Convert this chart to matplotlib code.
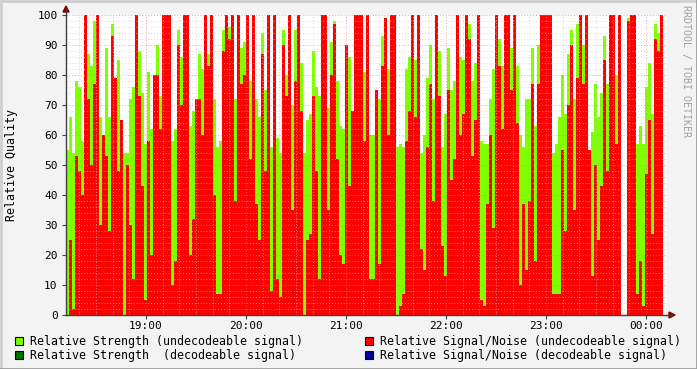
import numpy as np
import matplotlib
matplotlib.use("Agg")
import matplotlib.pyplot as plt
from matplotlib.patches import Rectangle, Polygon
from matplotlib.lines import Line2D

W, H = 697, 369

# Each column covers 1.8 minutes, starting 18:12.
# (strength, signal/noise), 8 rows of 25 columns
strength = [
    55, 66, 54, 78, 76, 58, 69, 87, 83, 98, 100, 66, 60, 89, 66, 97, 55, 85, 63, 54, 54, 72, 76, 76, 88,
    74, 57, 81, 62, 54, 90, 73, 54, 54, 54, 58, 62, 95, 86, 78, 54, 63, 68, 53, 87, 82, 86, 87, 92, 72,
    56, 58, 95, 86, 96, 78, 72, 62, 89, 91, 72, 78, 78, 72, 66, 94, 75, 58, 56, 59, 59, 54, 95, 80, 88,
    70, 95, 72, 84, 54, 65, 67, 88, 76, 73, 54, 54, 69, 91, 98, 78, 63, 62, 54, 86, 57, 54, 85, 69, 81,
    95, 60, 60, 56, 72, 93, 73, 82, 82, 97, 56, 57, 56, 82, 86, 100, 85, 97, 54, 60, 79, 90, 72, 86, 88,
    56, 67, 89, 75, 78, 58, 86, 85, 63, 97, 78, 84, 54, 58, 57, 57, 72, 82, 54, 92, 83, 68, 54, 89, 83,
    83, 60, 56, 72, 72, 89, 63, 90, 84, 82, 54, 96, 54, 57, 66, 80, 67, 87, 95, 72, 97, 91, 90, 80, 55,
    61, 77, 66, 74, 93, 77, 97, 54, 80, 81, np.nan, np.nan, 99, 100, 100, 57, 63, 57, 76, 84, 67, 97, 94, 77, np.nan,
]
snr = [
    0, 25, 2, 53, 48, 40, 100, 72, 50, 77, 100, 30, 60, 53, 28, 93, 79, 48, 65, 0, 50, 30, 12, 100, 73,
    43, 5, 58, 20, 80, 80, 62, 100, 100, 100, 10, 18, 90, 70, 100, 100, 20, 32, 72, 72, 60, 100, 83, 100, 40,
    7, 7, 88, 100, 92, 100, 38, 100, 77, 80, 100, 52, 100, 37, 25, 87, 48, 100, 8, 100, 12, 6, 90, 73, 100,
    35, 78, 100, 68, 0, 25, 27, 73, 48, 12, 100, 100, 35, 80, 97, 52, 20, 17, 90, 43, 68, 100, 100, 100, 58,
    100, 12, 12, 75, 17, 83, 99, 60, 100, 100, 0, 3, 7, 58, 68, 100, 66, 100, 22, 15, 56, 77, 38, 100, 73,
    23, 13, 75, 45, 52, 100, 60, 67, 100, 92, 53, 65, 100, 5, 3, 37, 60, 29, 100, 83, 62, 100, 100, 75, 100,
    64, 10, 37, 15, 38, 77, 18, 77, 100, 100, 100, 100, 7, 7, 7, 55, 28, 70, 90, 35, 79, 100, 77, 100, 55,
    13, 50, 25, 43, 85, 48, 100, 100, 57, 100, np.nan, np.nan, 98, 100, 100, 7, 18, 3, 47, 65, 27, 92, 88, 100, np.nan,
]

start_hour = 18.2
step = 0.03
hour_ticks = [19, 20, 21, 22, 23, 24]
hour_labels = ["19:00", "20:00", "21:00", "22:00", "23:00", "00:00"]
y_ticks = [0, 10, 20, 30, 40, 50, 60, 70, 80, 90, 100]

legend_items = [
    ("Relative Strength (undecodeable signal)", "#80ff00", 15, 341),
    ("Relative Signal/Noise (undecodeable signal)", "#ff0000", 365, 341),
    ("Relative Strength  (decodeable signal)", "#007000", 15, 355),
    ("Relative Signal/Noise (decodeable signal)", "#0000a0", 365, 355),
]

MONO = "DejaVu Sans Mono"
FS = 8.4


def fx(x):
    return x / W


def fy(y):
    return 1 - y / H


fig = plt.figure(figsize=(W / 100, H / 100), dpi=100)
fig.patch.set_facecolor("#f3f3f3")

# plot area in pixels: x 66..666, y 15..315
ax = fig.add_axes([fx(66), fy(315), fx(666) - fx(66), fy(15) - fy(315)])
ax.set_facecolor("white")

xs = start_hour + step * np.arange(len(strength))
ax.bar(xs, strength, width=step, align="edge", color="#80ff00", linewidth=0, zorder=1)
ax.bar(xs, snr, width=step, align="edge", color="#ff0000", linewidth=0, zorder=2)

ax.set_xlim(start_hour, start_hour + 6)
ax.set_ylim(0, 100)

# grid like rrdtool: minor grey dots, major pinkish dots, drawn on top
for v in np.arange(2, 100, 2):
    if v % 10:
        ax.axhline(v, color="#c8c8c8", lw=0.7, ls=(0, (1, 2)), alpha=0.7, zorder=3)
for v in y_ticks[1:]:
    ax.axhline(v, color="#e08080", lw=0.7, ls=(0, (1, 2)), alpha=0.7, zorder=3)
for m in np.arange(18 + 20 / 60, 24.2, 1 / 6):
    if abs(m - round(m)) > 1e-6:
        ax.axvline(m, color="#c8c8c8", lw=0.7, ls=(0, (1, 2)), alpha=0.7, zorder=3)
for h in hour_ticks:
    ax.axvline(h, color="#e08080", lw=0.7, ls=(0, (1, 2)), alpha=0.7, zorder=3)

ax.set_xticks(hour_ticks)
ax.set_xticklabels(hour_labels, fontfamily=MONO, fontsize=8)
ax.set_yticks(y_ticks)
ax.set_yticklabels([str(v) for v in y_ticks], fontfamily=MONO, fontsize=8)
ax.tick_params(axis="both", length=3, width=0.8, color="#404040")
ax.tick_params(axis="x", pad=1.5)
ax.tick_params(axis="y", pad=3)
for s in ["top", "right"]:
    ax.spines[s].set_visible(False)
for s in ["left", "bottom"]:
    ax.spines[s].set_color("#404040")
    ax.spines[s].set_linewidth(1.0)
    ax.spines[s].set_zorder(5)

# axis arrows
fig.add_artist(Line2D([fx(666), fx(672)], [fy(315), fy(315)], color="#404040", lw=1.0))
fig.add_artist(Line2D([fx(66), fx(66)], [fy(15), fy(9)], color="#404040", lw=1.0))
fig.add_artist(Polygon([(fx(669), fy(312)), (fx(675), fy(315)), (fx(669), fy(318))],
                       closed=True, color="#800000", transform=fig.transFigure))
fig.add_artist(Polygon([(fx(63), fy(12)), (fx(66), fy(6)), (fx(69), fy(12))],
                       closed=True, color="#800000", transform=fig.transFigure))

fig.text(fx(12), fy(165), "Relative Quality", rotation=90, ha="center", va="center",
         fontfamily=MONO, fontsize=FS)
fig.text(fx(686), fy(5), "RRDTOOL / TOBI OETIKER", rotation=270, ha="center", va="top",
         fontfamily=MONO, fontsize=7.2, color="#a0a0a0")

for label, col, x0, y0 in legend_items:
    fig.add_artist(Rectangle((fx(x0), fy(y0 + 4)), fx(8), 8 / H, facecolor=col,
                             edgecolor="black", lw=0.8, transform=fig.transFigure))
    fig.text(fx(x0 + 15), fy(y0), label, ha="left", va="center",
             fontfamily=MONO, fontsize=FS)

# rrdtool style frame
fig.add_artist(Line2D([0, 1], [fy(0.5), fy(0.5)], color="#cfcfcf", lw=2))
fig.add_artist(Line2D([fx(0.5), fx(0.5)], [0, 1], color="#cfcfcf", lw=2))
fig.add_artist(Line2D([0, 1], [fy(368.5), fy(368.5)], color="#9e9e9e", lw=2))
fig.add_artist(Line2D([fx(696.5), fx(696.5)], [0, 1], color="#9e9e9e", lw=2))

fig.savefig("out.png", dpi=100, facecolor=fig.get_facecolor())
